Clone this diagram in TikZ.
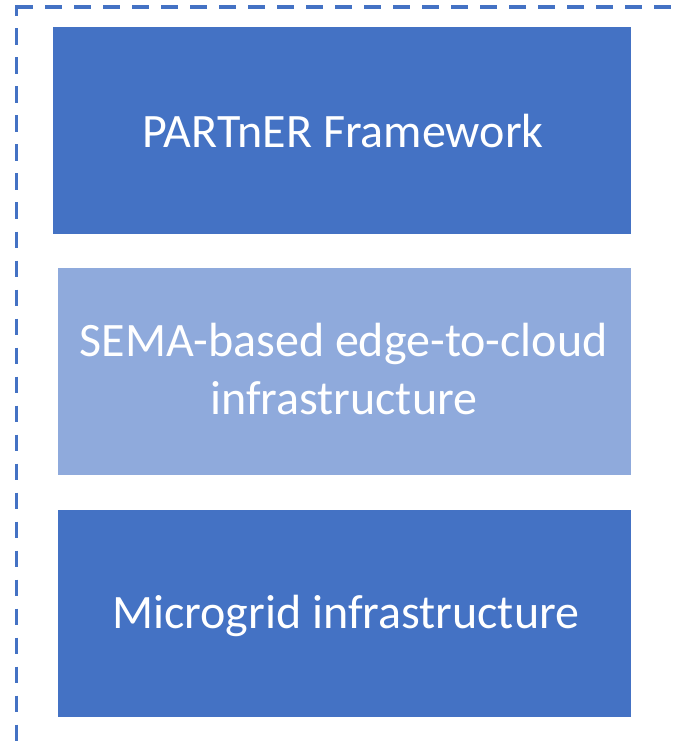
\documentclass[tikz,border=0pt]{standalone}
\usepackage{fontspec}
\setmainfont{Carlito}
\usetikzlibrary{calc}
\definecolor{accentblue}{RGB}{68,114,196}
\definecolor{lightblue}{RGB}{143,170,220}
\tikzset{
  layerbox/.style={draw=none, inner sep=0pt, outer sep=0pt, minimum width=#1},
  darkbox/.style={layerbox=578pt, fill=accentblue, minimum height=207pt},
  paleboxA/.style={layerbox=572.7pt, fill=lightblue, minimum height=206.7pt},
  paleboxB/.style={layerbox=572.7pt, fill=accentblue, minimum height=207.3pt},
  lbl/.style={text=white, inner sep=0pt, align=center, font=\fontsize{48pt}{58.3pt}\selectfont},
  frameline/.style={draw=accentblue, line width=3.6pt, line cap=butt}
}
\begin{document}
\begin{tikzpicture}[x=1pt,y=-1pt]
\path[use as bounding box] (0,0) rectangle (676,751);
% dashed frame (open on right and bottom, cropped)
\coordinate (fc) at (16.3,5.0);
\coordinate (fb) at (16.3,780);
\coordinate (fh) at (16,6.8);
\coordinate (fr) at (700,6.8);
\draw[frameline, dash pattern=on 16.5pt off 12.5pt, dash phase=5.5pt] (fc) -- (fb);
\draw[frameline, dash pattern=on 16.5pt off 12.5pt] (fh) -- (fr);
% layers
\node[darkbox] (b1) at (342,130.5) {};
\node[paleboxA] (b2) at (344.65,371.35) {};
\node[paleboxB] (b3) at (344.65,613.65) {};
\node[lbl, anchor=base] (t1) at ($(b1.center)+(1,17.2)$) {PARTnER Framework};
\node[lbl, anchor=base] (t2) at ($(b2.center)+(-1,43.6)$) {SEMA-based edge-to-cloud\\infrastructure};
\node[lbl, anchor=base] (t3) at ($(b3.center)+(1,14.6)$) {Microgrid infrastructure};
\end{tikzpicture}
\end{document}
